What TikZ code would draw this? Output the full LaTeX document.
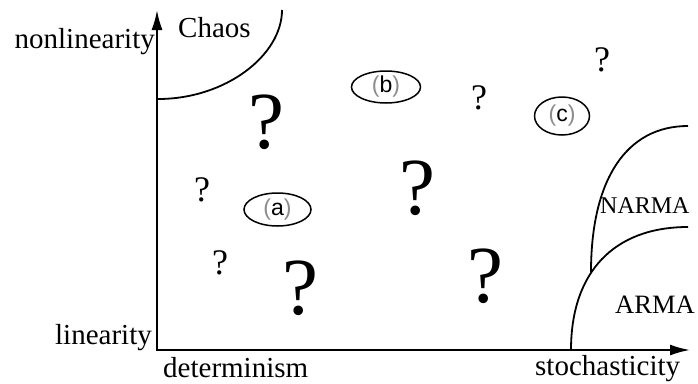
\documentclass[tikz,border=0pt]{standalone}
\usepackage{fontspec}
\setmainfont{Liberation Serif}
\newfontfamily\labsans{Liberation Sans}
\usetikzlibrary{arrows.meta,shapes.geometric}
\newcommand{\gp}[1]{\textcolor{black!45}{#1}}
\begin{document}
\begin{tikzpicture}[x=1pt,y=-1pt,
  lab/.style={inner sep=0pt, font=\fontsize{29}{30}\selectfont},
  smalllab/.style={inner sep=0pt, font=\fontsize{25}{26}\selectfont},
  qbig/.style={inner sep=0pt, font=\fontsize{81}{81}\selectfont},
  qsmall/.style={inner sep=0pt, font=\fontsize{36}{36}\selectfont},
  tag/.style={ellipse, draw, line width=1.5pt, inner sep=0pt, font=\labsans\fontsize{23}{23}\selectfont},
  curve/.style={line width=1.8pt},
  axis/.style={line width=2pt, {Latex[length=20pt,width=11pt]}-{Latex[length=20pt,width=11pt]}}]
\useasboundingbox (0,0) rectangle (698,383);
% axes
\coordinate (O) at (157,350);
\coordinate (ytip) at (157,10);
\coordinate (xtip) at (690,350);
\draw[axis] (ytip) -- (O) -- (xtip);
% region boundaries
\draw[curve] (158,99) .. controls (226,99) and (282,55) .. (282,10);
\draw[curve] (688,126) .. controls (626,126) and (591,180) .. (591,272);
\draw[curve] (688,227) .. controls (614,227) and (571,272) .. (571,350);
% axis labels
\node[lab, anchor=base east] (nl) at (155,48) {nonlinearity};
\node[lab, anchor=base east] (li) at (152,344) {linearity};
\node[lab, anchor=base west] (de) at (163,377) {determinism};
\node[lab, anchor=base west] (st) at (535,375) {stochasticity};
% region labels
\node[lab, anchor=base west] (chaos) at (178,37) {Chaos};
\node[smalllab, font=\fontsize{24}{25}\selectfont, anchor=base west] (narma) at (600,213) {NARMA};
\node[smalllab, font=\fontsize{26.5}{27}\selectfont, anchor=base west] (arma) at (615,313) {ARMA};
% question marks
\node[qbig] (q1) at (266,122) {?};
\node[qbig] (q2) at (417,188) {?};
\node[qbig] (q3) at (300,288) {?};
\node[qbig] (q4) at (485,276) {?};
\node[qsmall] (q5) at (202,190) {?};
\node[qsmall] (q6) at (220,263) {?};
\node[qsmall] (q7) at (479,98) {?};
\node[qsmall] (q8) at (602,60) {?};
% tagged points
\node[tag, minimum width=67pt, minimum height=33pt] (a) at (277.5,209.5) {\gp{(}a\gp{)}};
\node[tag, minimum width=69pt, minimum height=32pt] (b) at (386,87) {\gp{(}b\gp{)}};
\node[tag, minimum width=55pt, minimum height=38pt] (c) at (562,116) {\gp{(}c\gp{)}};
\end{tikzpicture}
\end{document}
